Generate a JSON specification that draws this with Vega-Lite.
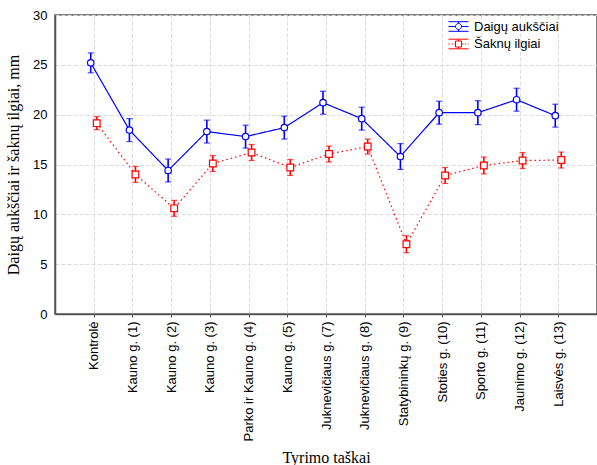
{
  "$schema": "https://vega.github.io/schema/vega-lite/v6.json",
  "autosize": {"type": "none"},
  "width": 542,
  "height": 299,
  "padding": {"left": 55, "top": 15, "right": 0, "bottom": 151},
  "background": "white",
  "view": {"stroke": "#555555", "strokeWidth": 1.5},
  "config": {
    "axis": {"labelFont": "Liberation Sans", "labelColor": "black", "titleFont": "Liberation Serif", "titleFontWeight": "normal", "titleColor": "black", "titleFontSize": 16, "domainColor": "#555555", "domainWidth": 1.5, "tickColor": "#555555", "gridColor": "#dcdcdc", "gridDash": [4, 2], "gridWidth": 1}
  },
  "resolve": {"scale": {"color": "independent"}, "legend": {"color": "independent"}},
  "data": {"values": [
    {"cat": "Kontrolė", "series": "Daigų aukščiai", "mean": 25.2, "lo": 24.2, "hi": 26.2},
    {"cat": "Kauno g. (1)", "series": "Daigų aukščiai", "mean": 18.45, "lo": 17.3, "hi": 19.6},
    {"cat": "Kauno g. (2)", "series": "Daigų aukščiai", "mean": 14.4, "lo": 13.25, "hi": 15.55},
    {"cat": "Kauno g. (3)", "series": "Daigų aukščiai", "mean": 18.3, "lo": 17.15, "hi": 19.45},
    {"cat": "Parko ir Kauno g. (4)", "series": "Daigų aukščiai", "mean": 17.8, "lo": 16.65, "hi": 18.95},
    {"cat": "Kauno g. (5)", "series": "Daigų aukščiai", "mean": 18.7, "lo": 17.55, "hi": 19.85},
    {"cat": "Juknevičiaus g. (7)", "series": "Daigų aukščiai", "mean": 21.2, "lo": 20.05, "hi": 22.35},
    {"cat": "Juknevičiaus g. (8)", "series": "Daigų aukščiai", "mean": 19.6, "lo": 18.45, "hi": 20.75},
    {"cat": "Statybininkų g. (9)", "series": "Daigų aukščiai", "mean": 15.8, "lo": 14.5, "hi": 17.1},
    {"cat": "Stoties g. (10)", "series": "Daigų aukščiai", "mean": 20.2, "lo": 19.05, "hi": 21.35},
    {"cat": "Sporto g. (11)", "series": "Daigų aukščiai", "mean": 20.2, "lo": 19.0, "hi": 21.4},
    {"cat": "Jaunimo g. (12)", "series": "Daigų aukščiai", "mean": 21.5, "lo": 20.35, "hi": 22.65},
    {"cat": "Laisvės g. (13)", "series": "Daigų aukščiai", "mean": 19.9, "lo": 18.75, "hi": 21.05},
    {"cat": "Kontrolė", "series": "Šaknų ilgiai", "mean": 19.15, "lo": 18.5, "hi": 19.8},
    {"cat": "Kauno g. (1)", "series": "Šaknų ilgiai", "mean": 14.0, "lo": 13.2, "hi": 14.8},
    {"cat": "Kauno g. (2)", "series": "Šaknų ilgiai", "mean": 10.6, "lo": 9.8, "hi": 11.4},
    {"cat": "Kauno g. (3)", "series": "Šaknų ilgiai", "mean": 15.1, "lo": 14.3, "hi": 15.9},
    {"cat": "Parko ir Kauno g. (4)", "series": "Šaknų ilgiai", "mean": 16.2, "lo": 15.4, "hi": 17.0},
    {"cat": "Kauno g. (5)", "series": "Šaknų ilgiai", "mean": 14.7, "lo": 13.9, "hi": 15.5},
    {"cat": "Juknevičiaus g. (7)", "series": "Šaknų ilgiai", "mean": 16.05, "lo": 15.25, "hi": 16.85},
    {"cat": "Juknevičiaus g. (8)", "series": "Šaknų ilgiai", "mean": 16.8, "lo": 16.05, "hi": 17.55},
    {"cat": "Statybininkų g. (9)", "series": "Šaknų ilgiai", "mean": 7.0, "lo": 6.15, "hi": 7.85},
    {"cat": "Stoties g. (10)", "series": "Šaknų ilgiai", "mean": 13.9, "lo": 13.1, "hi": 14.7},
    {"cat": "Sporto g. (11)", "series": "Šaknų ilgiai", "mean": 14.9, "lo": 14.05, "hi": 15.75},
    {"cat": "Jaunimo g. (12)", "series": "Šaknų ilgiai", "mean": 15.4, "lo": 14.6, "hi": 16.2},
    {"cat": "Laisvės g. (13)", "series": "Šaknų ilgiai", "mean": 15.45, "lo": 14.65, "hi": 16.25}
  ]},
  "encoding": {
    "x": {"field": "cat", "type": "nominal", "sort": null,
      "scale": {"type": "point", "padding": 1},
      "axis": {"title": "Tyrimo taškai", "labelAngle": -90, "labelAlign": "right", "labelBaseline": "middle", "labelFontSize": 13, "labelPadding": 4, "tickSize": 3, "titlePadding": 9, "grid": true}},
    "xOffset": {"field": "series", "type": "nominal", "scale": {"type": "point", "range": [-3, 3], "padding": 0}}
  },
  "layer": [
    {
      "mark": {"type": "line", "strokeWidth": 1.2},
      "encoding": {
        "y": {"field": "mean", "type": "quantitative",
          "scale": {"domain": [0, 30], "nice": false},
          "axis": {"title": "Daigų aukščiai ir šaknų ilgiai, mm", "values": [0, 5, 10, 15, 20, 25, 30], "labelFontSize": 13, "tickSize": 0, "labelPadding": 8, "titlePadding": 11, "grid": true}},
        "color": {"field": "series", "type": "nominal", "scale": {"domain": ["Daigų aukščiai", "Šaknų ilgiai"], "range": ["#0000ff", "#ff0000"]}, "legend": null},
        "strokeDash": {"field": "series", "type": "nominal", "scale": {"domain": ["Daigų aukščiai", "Šaknų ilgiai"], "range": [[1, 0], [1.5, 3]]}, "legend": null}
      }
    },
    {
      "mark": {"type": "rule", "strokeWidth": 1.6},
      "encoding": {
        "y": {"field": "lo", "type": "quantitative"},
        "y2": {"field": "hi"},
        "color": {"field": "series", "type": "nominal", "scale": {"domain": ["Daigų aukščiai", "Šaknų ilgiai"], "range": ["#0000ff", "#ff0000"]}, "legend": null}
      }
    },
    {
      "mark": {"type": "tick", "thickness": 1.2, "size": 6},
      "encoding": {
        "y": {"field": "lo", "type": "quantitative"},
        "color": {"field": "series", "type": "nominal", "scale": {"domain": ["Daigų aukščiai", "Šaknų ilgiai"], "range": ["#0000ff", "#ff0000"]}, "legend": null}
      }
    },
    {
      "mark": {"type": "tick", "thickness": 1.2, "size": 6},
      "encoding": {
        "y": {"field": "hi", "type": "quantitative"},
        "color": {"field": "series", "type": "nominal", "scale": {"domain": ["Daigų aukščiai", "Šaknų ilgiai"], "range": ["#0000ff", "#ff0000"]}, "legend": null}
      }
    },
    {
      "transform": [{"filter": "datum.series === 'Daigų aukščiai'"}],
      "mark": {"type": "point", "shape": "circle", "size": 42, "filled": true, "fill": "white", "stroke": "#0000ff", "strokeWidth": 1.2, "opacity": 1},
      "encoding": {"y": {"field": "mean", "type": "quantitative"}}
    },
    {
      "transform": [{"filter": "datum.series === 'Šaknų ilgiai'"}],
      "mark": {"type": "point", "shape": "square", "size": 45, "filled": true, "fill": "white", "stroke": "#ff0000", "strokeWidth": 1.2, "opacity": 1},
      "encoding": {"y": {"field": "mean", "type": "quantitative"}}
    },
    {
      "mark": {"type": "point", "opacity": 0, "size": 0, "strokeWidth": 1,
        "shape": {"expr": "datum.value === 'Daigų aukščiai' ? 'M-1.25,-0.6H1.25M-1.25,0.6H1.25M-1.25,0H-0.375M0.375,0H1.25M0,-0.6V-0.375M0,0.375V0.6M0.375,0C0.375,0.2071,0.2071,0.375,0,0.375C-0.2071,0.375,-0.375,0.2071,-0.375,0C-0.375,-0.2071,-0.2071,-0.375,0,-0.375C0.2071,-0.375,0.375,-0.2071,0.375,0Z' : 'M-1.25,-0.6H1.25M-1.25,0.6H1.25M-1.25,0H-1.1M-0.85,0H-0.7M-0.5,0H-0.375M0.45,0H0.6M0.8,0H0.95M1.15,0H1.25M0,-0.6V-0.375M0,0.375V0.6M-0.375,-0.375H0.375V0.375H-0.375Z'"}},
      "encoding": {
        "y": {"field": "mean", "type": "quantitative"},
        "color": {"field": "series", "type": "nominal",
          "scale": {"domain": ["Daigų aukščiai", "Šaknų ilgiai"], "range": ["#0000ff", "#ff0000"]},
          "legend": {"orient": "none", "legendX": 395, "legendY": 3, "title": null, "padding": 0, "symbolSize": 256, "symbolStrokeWidth": 1, "symbolOpacity": 1, "labelFont": "Liberation Sans", "labelFontSize": 13, "labelColor": "black", "labelOffset": 7, "rowPadding": 1.5,
            "encode": {"symbols": {
              "fill": {"value": "transparent"},
              "strokeWidth": {"value": 1}
            }}}}
      }
    }
  ]
}
